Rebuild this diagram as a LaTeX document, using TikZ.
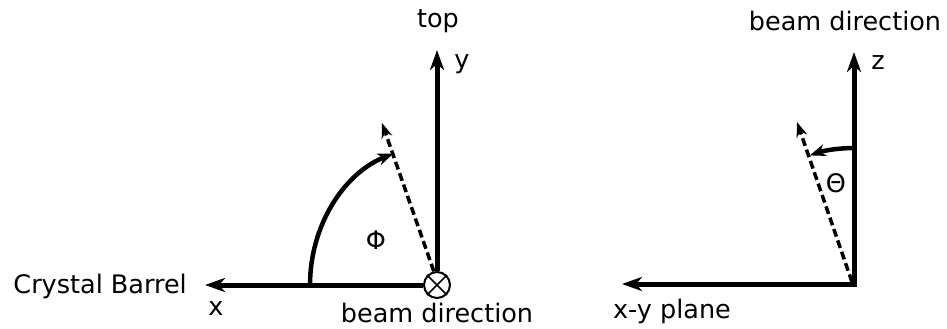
\documentclass[tikz,border=0pt]{standalone}
\usepackage{fontspec}
\setmainfont{DejaVu Sans}
\usetikzlibrary{arrows.meta, positioning}

\begin{document}
\begin{tikzpicture}[x=1pt, y=-1pt,
  axis/.style={-{Stealth[length=20pt, width=14pt, inset=6pt]}, line width=5pt},
  dir/.style={-{Stealth[length=15pt, width=11pt, inset=5pt]}, line width=3.5pt,
    dash pattern=on 8pt off 4pt},
  angarc/.style={-{Stealth[length=16pt, width=12pt, inset=5pt]}, line width=4.5pt},
  lbl/.style={font=\fontsize{25.5}{30}\selectfont, inner sep=0pt}
]
\useasboundingbox (0,0) rectangle (947,329);

% Left: x-y plane seen along the beam
\node[circle, draw, line width=2pt, minimum size=26pt, inner sep=0pt, fill=white] (beamL) at (437,285) {};
\draw[line width=1.5pt] (beamL.45) -- (beamL.225) (beamL.135) -- (beamL.315);
\coordinate (xtip) at (205,285);
\coordinate (ytip) at (437,50);
\coordinate (phitip) at (382,123);
\coordinate (phistart) at (310,285);
\draw[axis] (beamL.west) -- (xtip);
\draw[axis] (beamL.north) -- (ytip);
\draw[dir] (beamL.103) -- (phitip);
\draw[angarc] (phistart) arc[start angle=180, end angle=250, x radius=127, y radius=140];

\node[lbl, anchor=base east] (barrel) at (187,293) {Crystal Barrel};
\node[lbl, anchor=base] (xlbl) at (216,315) {x};
\node[lbl, anchor=base] (ylbl) at (462,68) {y};
\node[lbl, anchor=base] (toplbl) at (438,28) {top};
\node[lbl, anchor=base] (beamlblL) at (437,322) {beam direction};
\node[lbl] (philbl) at (376,240) {Φ};

% Right: beam axis and polar angle
\coordinate (orig) at (854,284);
\coordinate (ztip) at (854,52);
\coordinate (xytip) at (622,284);
\coordinate (thetatip) at (797,122);
\draw[axis] (orig) -- (ztip);
\draw[axis] (orig) -- (xytip);
\draw[line width=5pt] (851.5,284) -- (856.5,284);
\draw[dir] (852,282) -- (thetatip);
\draw[angarc] (854,148) arc[start angle=270, end angle=251, radius=136];

\node[lbl, anchor=base] (zlbl) at (878,70) {z};
\node[lbl, anchor=base] (beamlblR) at (845,31) {beam direction};
\node[lbl, anchor=base] (xylbl) at (672,318) {x-y plane};
\node[lbl] (thetalbl) at (836,183) {Θ};
\end{tikzpicture}
\end{document}
